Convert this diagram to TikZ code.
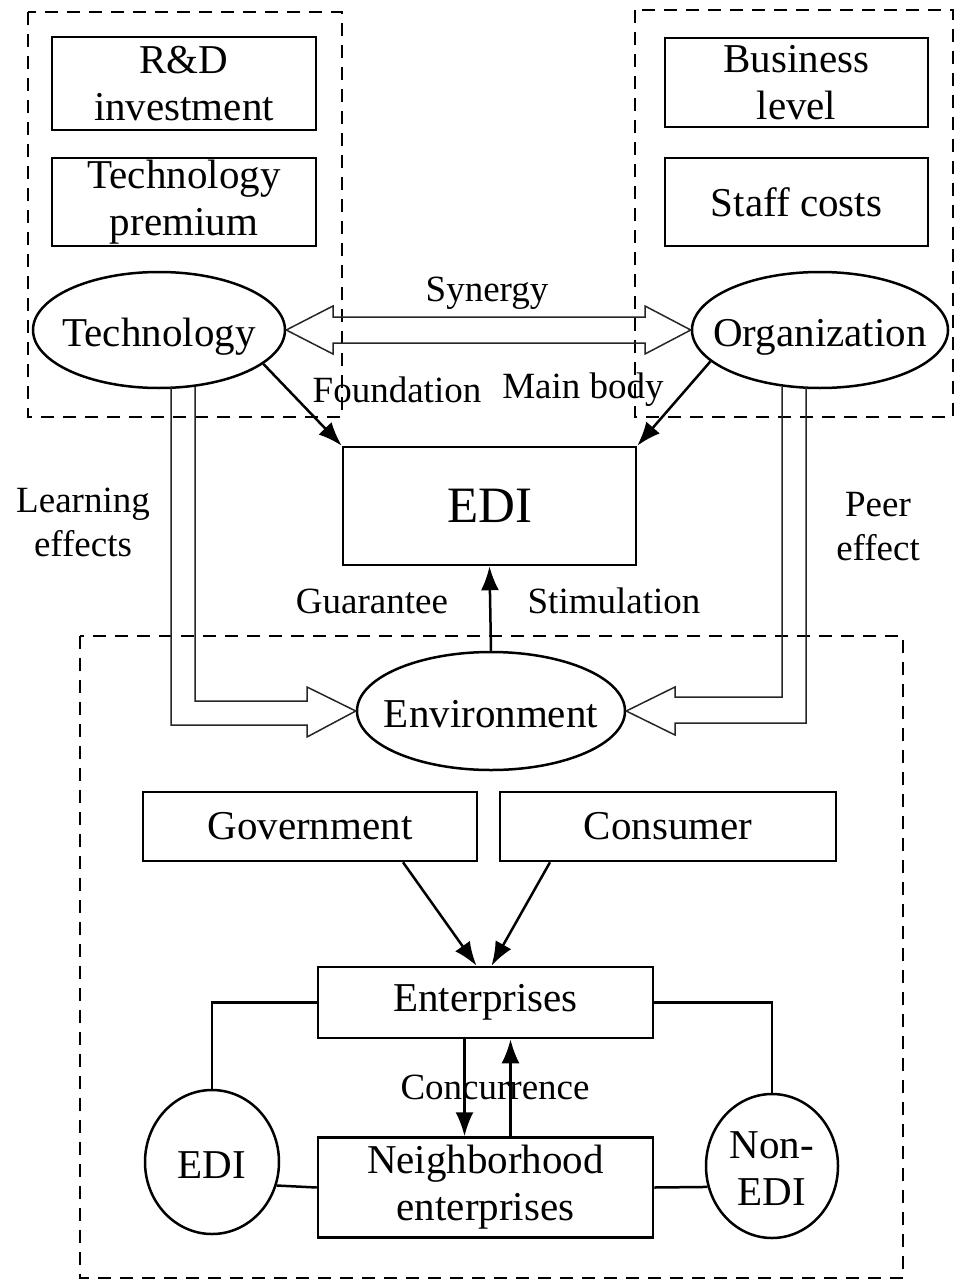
\documentclass[tikz,border=0pt]{standalone}
\usepackage{fontspec}
\setmainfont{Liberation Serif}
\usetikzlibrary{arrows.meta}
\usetikzlibrary{shapes}
\usetikzlibrary{calc}
\usetikzlibrary{positioning}

% text of an oval takes no room, so minimum width/height set the size
\newcommand{\ovtext}[1]{\raisebox{-13pt}[0pt][0pt]{\makebox[0pt]{\begin{tabular}{@{}c@{}}#1\end{tabular}}}}

\tikzset{
  box/.style={draw, line width=2.5pt, inner sep=0pt, align=center, font=\fontsize{41}{47}\selectfont},
  oval/.style={ellipse, draw, line width=2.5pt, inner sep=0pt, font=\fontsize{41}{47}\selectfont},
  lbl/.style={align=center, inner sep=0pt, font=\fontsize{37}{44}\selectfont},
  group/.style={line width=2.4pt, dash pattern=on 13pt off 9pt},
  fat/.style={draw=black!85, line width=1.5pt, line join=miter},
}

\begin{document}
\begin{tikzpicture}[x=1pt, y=-1pt, >={Latex[length=24pt,width=18pt]}, line width=2.5pt]
\useasboundingbox (0,0) rectangle (958,1281);

%dashed groups
\draw[group] (28,12) rectangle (342,417);
\draw[group] (635,10) rectangle (953,417);
\draw[group] (80,636) rectangle (903,1278);

%technology
\node[box, minimum width=264pt, minimum height=93pt] (rd) at (184,83.5) {R\&D\\investment};
\node[box, minimum width=264pt, minimum height=88pt] (prem) at (184,202) {Technology\\premium};
\node[oval, minimum width=252pt, minimum height=116pt] (tech) at (159,330) {\ovtext{Technology}};

%organization
\node[box, minimum width=263pt, minimum height=89pt] (biz) at (796.5,82.5) {Business\\level};
\node[box, minimum width=263pt, minimum height=88pt] (staff) at (796.5,202) {Staff costs};
\node[oval, minimum width=256pt, minimum height=116pt] (org) at (820,330) {\ovtext{Organization}};

%core
\node[box, minimum width=293pt, minimum height=118pt, font=\fontsize{51}{56}\selectfont] (edi) at (489.5,506) {EDI};
\node[oval, minimum width=268pt, minimum height=118pt] (env) at (491,711) {\ovtext{Environment}};

%synergy
\draw[fat] (tech.east) -- (333,306) -- (333,317) -- (645,317) -- (645,306) -- (org.west)
  -- (645,354) -- (645,343) -- (333,343) -- (333,354) -- cycle;
\node[lbl] (syn) at (487,293) {Synergy};

\draw[->] (tech.-18) -- (edi.north west);
\draw[->] (org.196) -- (edi.north east);
\node[lbl] (fnd) at (397,390) {Foundation};
\node[lbl] (mb) at (583,390) {Main body};

\draw[->] (env.north) -- (edi.south);
\node[lbl] (gua) at (372,601) {Guarantee};
\node[lbl] (sti) at (614,601) {Stimulation};

%learning and peer effects
\draw[fat] (171,387) -- (171,725) -- (307,725) -- (307,737) -- (env.west)
  -- (307,687) -- (307,701) -- (195,701) -- (195,387);
\draw[fat] (806,387) -- (806,723) -- (675,723) -- (675,735) -- (env.east)
  -- (675,687) -- (675,697) -- (782,697) -- (782,387);
\node[lbl] (learn) at (83,522) {Learning\\effects};
\node[lbl] (peer) at (878,527) {Peer\\effect};

%environment
\node[box, minimum width=334pt, minimum height=69pt] (gov) at (310,826.5) {Government};
\node[box, minimum width=336pt, minimum height=69pt] (con) at (668,826.5) {Consumer};
\node[box, minimum width=335pt, minimum height=71pt] (ent) at (485.5,1002.5) {Enterprises};
\node[box, minimum width=335pt, minimum height=100pt] (nb) at (485.5,1187.5) {Neighborhood\\enterprises};
\node[oval, minimum width=134pt, minimum height=144pt] (yes) at (212,1162) {\ovtext{EDI}};
\node[oval, minimum width=132pt, minimum height=144pt] (no) at (772,1166) {\ovtext{Non-\\EDI}};

\draw[->] ([xshift=93pt]gov.south) -- ([xshift=-9pt]ent.north);
\draw[->] ([xshift=-118pt]con.south) -- ([xshift=6pt]ent.north);

\draw[->] ([xshift=-21pt]ent.south) -- ([xshift=-21pt]nb.north);
\draw[->] ([xshift=25pt]nb.north) -- ([xshift=25pt]ent.south);
\node[lbl] (conc) at (495,1087) {Concurrence};

\draw (ent.west) -| (yes.north);
\draw (ent.east) -| (no.north);
\draw (nb.west) -- (yes.-20);
\draw (nb.east) -- (no.198);
\end{tikzpicture}
\end{document}
